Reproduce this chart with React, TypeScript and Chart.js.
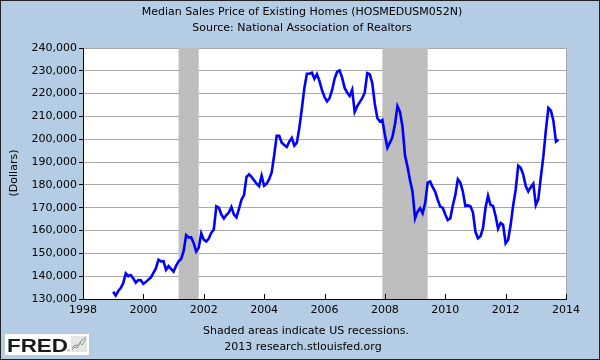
import React, { useEffect, useRef } from "react";
import { Chart, registerables } from "chart.js";

Chart.register(...registerables);

const TITLE_LINE_1 = "Median Sales Price of Existing Homes (HOSMEDUSM052N)";
const TITLE_LINE_2 = "Source: National Association of Realtors";
const Y_TITLE = "(Dollars)";
const FOOT_LINE_1 = "Shaded areas indicate US recessions.";
const FOOT_LINE_2 = "2013 research.stlouisfed.org";

const START_YEAR = 1999;
// Monthly values, Jan 1999 .. Oct 2013 (dollars)
const v1999 = [133200, 131500, 133500, 134800, 137000, 141200, 140000, 140500, 139000, 137200, 138300, 138200];
const v2000 = [136600, 137500, 138500, 139500, 141500, 143500, 147200, 146500, 146600, 142800, 144400, 143200];
const v2001 = [142000, 144500, 146500, 147500, 151000, 158000, 157000, 157000, 154500, 150800, 152500, 158800];
const v2002 = [156000, 155200, 156500, 159000, 160500, 170600, 170000, 167000, 165300, 166800, 168000, 170300];
const v2003 = [167000, 165800, 169500, 173500, 175500, 183500, 184600, 183500, 182000, 180500, 179400, 184000];
const v2004 = [179600, 180500, 182500, 185500, 193000, 201500, 201500, 198500, 197500, 196600, 199000, 200600];
const v2005 = [197200, 198500, 205000, 213500, 222500, 228700, 228700, 229200, 226500, 228500, 225500, 221500];
const v2006 = [218500, 216600, 218000, 221500, 226500, 229500, 230200, 227000, 222500, 220500, 219000, 221700];
const v2007 = [212000, 214500, 216300, 218000, 220500, 229000, 228500, 224500, 215500, 209300, 207800, 208500];
const v2008 = [202000, 196300, 198500, 201000, 206500, 214500, 212000, 205500, 193000, 188000, 182000, 177000];
const v2009 = [165400, 168300, 169800, 167600, 172000, 181000, 181500, 179000, 177000, 173500, 170500, 170000];
const v2010 = [167000, 164600, 165300, 171000, 175500, 182500, 181000, 177000, 170800, 171000, 170600, 168000];
const v2011 = [159500, 156600, 157500, 161000, 170000, 175200, 171200, 170800, 166500, 160800, 163300, 162500];
const v2012 = [154400, 156000, 162500, 171000, 178000, 188400, 187500, 184500, 179500, 177100, 179000, 180500];
const v2013 = [171200, 173800, 183500, 192500, 204000, 213700, 212500, 208000, 199000, 199800];

const yearlyValues = [v1999, v2000, v2001, v2002, v2003, v2004, v2005, v2006, v2007, v2008, v2009, v2010, v2011, v2012, v2013];

// Recessions: [start year, start month, end year, end month]
const recessions = [
  [2001, 3, 2001, 11],
  [2007, 12, 2009, 6],
];

const X_MIN = 1998;
const X_MAX = 2014;
const X_STEP = 2;
const Y_MIN = 130000;
const Y_MAX = 240000;
const Y_STEP = 10000;

const BG = "#b4cde4";
const LINE_COLOR = "#0000ff";
const GRID_COLOR = "#aaaaaa";
const RECESSION_COLOR = "#bebebe";
const FONT = '11px "DejaVu Sans", sans-serif';

function fmt(n: number): string {
  return String(Math.round(n)).replace(/\B(?=(\d{3})+(?!\d))/g, ",");
}

function buildPoints() {
  const pts: { x: number; y: number }[] = [];
  yearlyValues.forEach((arr, yi) => {
    arr.forEach((val, mi) => {
      pts.push({ x: START_YEAR + yi + mi / 12, y: val });
    });
  });
  return pts;
}

const decorPlugin = {
  id: "decor",
  beforeDraw(chart: any) {
    const { ctx, chartArea, width, height } = chart;
    ctx.save();
    ctx.fillStyle = BG;
    ctx.fillRect(0, 0, width, height);
    ctx.fillStyle = "#ffffff";
    ctx.fillRect(chartArea.left, chartArea.top, chartArea.right - chartArea.left, chartArea.bottom - chartArea.top);
    ctx.restore();
  },
  beforeDatasetsDraw(chart: any) {
    const { ctx, chartArea, scales } = chart;
    const xs = scales.x;
    ctx.save();
    ctx.fillStyle = RECESSION_COLOR;
    recessions.forEach(([sy, sm, ey, em]) => {
      const x0 = xs.getPixelForValue(sy + (sm - 1) / 12);
      const x1 = xs.getPixelForValue(ey + (em - 1) / 12);
      ctx.fillRect(x0, chartArea.top, x1 - x0, chartArea.bottom - chartArea.top);
    });
    ctx.restore();
  },
  afterDraw(chart: any) {
    const { ctx, chartArea, scales, width, height } = chart;
    const xs = scales.x;
    ctx.save();
    // right frame line
    ctx.strokeStyle = GRID_COLOR;
    ctx.lineWidth = 1;
    ctx.beginPath();
    ctx.moveTo(Math.round(chartArea.right) + 0.5, chartArea.top);
    ctx.lineTo(Math.round(chartArea.right) + 0.5, chartArea.bottom);
    ctx.stroke();
    // inward x ticks
    ctx.strokeStyle = "#000000";
    ctx.beginPath();
    for (let v = X_MIN; v <= X_MAX; v += X_STEP) {
      const px = Math.round(xs.getPixelForValue(v)) + 0.5;
      ctx.moveTo(px, chartArea.bottom);
      ctx.lineTo(px, chartArea.bottom - 5);
    }
    ctx.stroke();
    // bottom axis line
    ctx.beginPath();
    ctx.moveTo(chartArea.left, Math.round(chartArea.bottom) + 0.5);
    ctx.lineTo(chartArea.right + 1, Math.round(chartArea.bottom) + 0.5);
    ctx.stroke();

    // texts
    ctx.fillStyle = "#000000";
    ctx.font = FONT;
    ctx.textAlign = "center";
    ctx.textBaseline = "middle";
    ctx.fillText(TITLE_LINE_1, 302, 12);
    ctx.fillText(TITLE_LINE_2, 302, 28);
    ctx.fillText(FOOT_LINE_1, 306, 331);
    ctx.fillText(FOOT_LINE_2, 303, 347);
    ctx.save();
    ctx.translate(14, 173);
    ctx.rotate(-Math.PI / 2);
    ctx.fillText(Y_TITLE, 0, 0);
    ctx.restore();

    // FRED logo
    ctx.fillStyle = "#ffffff";
    ctx.fillRect(5, 334, 84, 21);
    ctx.save();
    ctx.fillStyle = "#1a1a1a";
    ctx.font = 'bold 18px "Liberation Sans", Arial, sans-serif';
    ctx.textAlign = "left";
    ctx.textBaseline = "alphabetic";
    const w = ctx.measureText("FRED").width;
    ctx.translate(7, 352);
    ctx.scale(61 / w, 1.0);
    ctx.fillText("FRED", 0, 0);
    ctx.restore();
    ctx.font = '4px sans-serif';
    ctx.fillStyle = "#333";
    ctx.textAlign = "left";
    ctx.fillText("®", 67, 351);
    // icon
    ctx.fillStyle = "#e6e6e6";
    ctx.fillRect(71, 336, 16, 16);
    ctx.lineWidth = 1;
    ctx.strokeStyle = "#7cb342";
    ctx.beginPath();
    ctx.moveTo(72, 350); ctx.lineTo(75, 347); ctx.lineTo(77, 348); ctx.lineTo(80, 343); ctx.lineTo(82, 345); ctx.lineTo(86, 339);
    ctx.stroke();
    ctx.strokeStyle = "#5c8fd6";
    ctx.beginPath();
    ctx.moveTo(72, 348); ctx.lineTo(75, 345); ctx.lineTo(78, 346); ctx.lineTo(81, 341); ctx.lineTo(86, 337);
    ctx.stroke();

    // outer border
    ctx.strokeStyle = "#222222";
    ctx.lineWidth = 1;
    ctx.strokeRect(0.5, 0.5, width - 1, height - 1);
    ctx.restore();
  },
};

export default function App() {
  const ref = useRef<HTMLCanvasElement | null>(null);
  useEffect(() => {
    document.body.style.margin = "0";
    const canvas = ref.current;
    if (!canvas) return;
    const chart = new Chart(canvas, {
      type: "line",
      data: {
        datasets: [
          {
            data: buildPoints(),
            borderColor: LINE_COLOR,
            borderWidth: 2.6,
            pointRadius: 0,
            tension: 0,
            fill: false,
          },
        ],
      },
      options: {
        animation: false,
        responsive: false,
        devicePixelRatio: 1,
        parsing: false as any,
        layout: { padding: { top: 48, right: 34, bottom: 0, left: 0 } },
        plugins: {
          legend: { display: false },
          tooltip: { enabled: false },
          title: { display: false },
        },
        scales: {
          x: {
            type: "linear",
            min: X_MIN,
            max: X_MAX,
            ticks: {
              stepSize: X_STEP,
              color: "#000",
              font: { family: '"DejaVu Sans", sans-serif', size: 11 },
              padding: 5,
              maxRotation: 0,
              callback: (v: any) => String(v),
            },
            grid: { display: false, drawTicks: false },
            border: { display: false },
            afterFit: (s: any) => {
              s.height = 61;
            },
          },
          y: {
            type: "linear",
            min: Y_MIN,
            max: Y_MAX,
            ticks: {
              stepSize: Y_STEP,
              color: "#000",
              font: { family: '"DejaVu Sans", sans-serif', size: 11 },
              padding: 2,
              callback: (v: any) => fmt(Number(v)),
            },
            grid: { color: GRID_COLOR, tickColor: "#000", tickLength: 4, lineWidth: 1 },
            border: { color: "#000", width: 1 },
            afterFit: (s: any) => {
              s.width = 83;
            },
          },
        },
      },
      plugins: [decorPlugin],
    });
    return () => chart.destroy();
  }, []);
  return <canvas ref={ref} width={600} height={360} style={{ display: "block" }} />;
}
